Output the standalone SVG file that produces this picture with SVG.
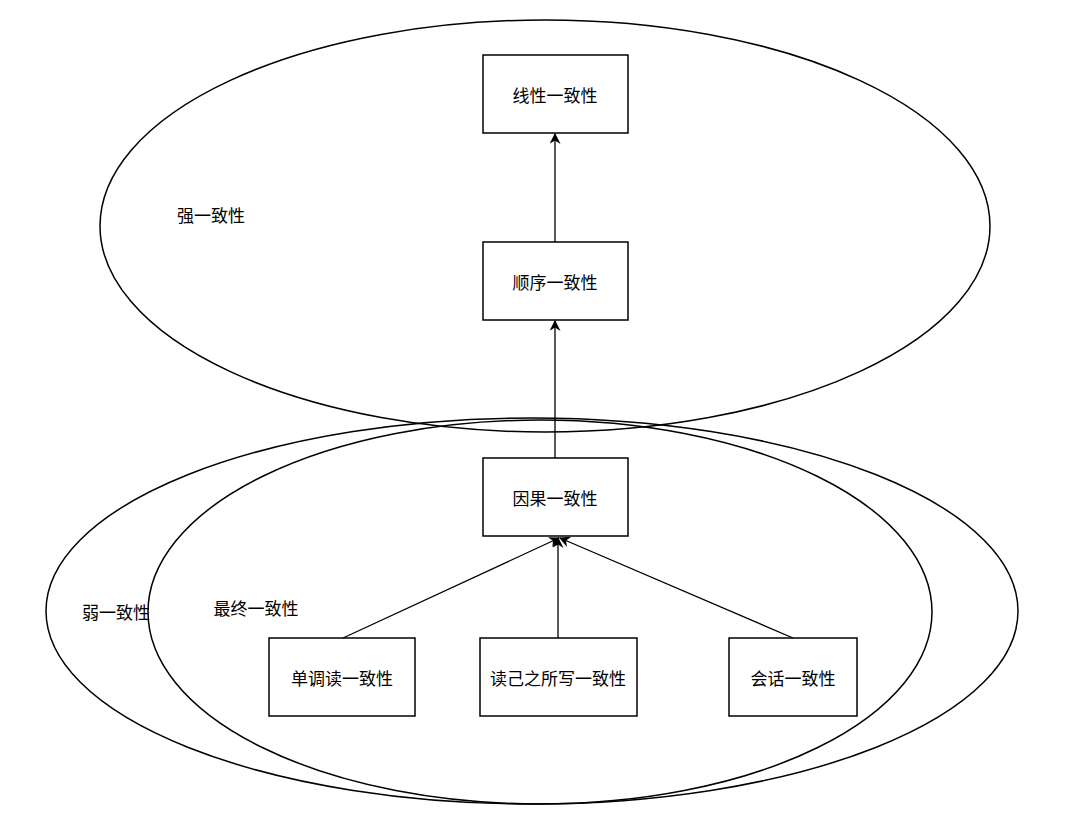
<svg xmlns="http://www.w3.org/2000/svg" width="1080" height="821" viewBox="0 0 1080 821">
<style>
.e{fill:none;stroke:#000;stroke-width:1.5}
.b{fill:#fff;stroke:#000;stroke-width:1.5}
text{font-family:"Noto Sans CJK SC",sans-serif;font-size:17px;fill:#000}
.c{text-anchor:middle;dominant-baseline:central}
.l{stroke:#000;stroke-width:1.3;fill:none;marker-end:url(#a)}
</style>
<defs><marker id="a" viewBox="0 0 10 10" refX="9" refY="5" markerWidth="11" markerHeight="11" markerUnits="userSpaceOnUse" orient="auto"><path d="M0,0L10,5L0,10L3,5z" fill="#000"/></marker></defs>
<rect width="1080" height="821" fill="#fff"/>
<g id="strong"><ellipse class="e" cx="545" cy="226" rx="445" ry="206"/><text x="211" y="214" class="c">强一致性</text></g>
<g id="weak"><ellipse class="e" cx="532" cy="611" rx="486" ry="193"/><text x="116" y="611" class="c">弱一致性</text></g>
<g id="eventual"><ellipse class="e" cx="540" cy="612" rx="392" ry="192"/><text x="256" y="607" class="c">最终一致性</text></g>
<g id="linear"><rect class="b" x="483" y="55" width="145" height="78"/><text x="555" y="94" class="c">线性一致性</text></g>
<g id="seq"><rect class="b" x="483" y="242" width="145" height="78"/><text x="555" y="281" class="c">顺序一致性</text></g>
<g id="causal"><rect class="b" x="483" y="458" width="145" height="78"/><text x="555" y="497" class="c">因果一致性</text></g>
<g id="mono"><rect class="b" x="269" y="638" width="146" height="78"/><text x="342" y="677" class="c">单调读一致性</text></g>
<g id="ryw"><rect class="b" x="480" y="638" width="157" height="78"/><text x="558" y="677" class="c">读己之所写一致性</text></g>
<g id="session"><rect class="b" x="729" y="638" width="128" height="78"/><text x="793" y="677" class="c">会话一致性</text></g>
<g id="connectors">
<path class="l" d="M555,242V134"/>
<path class="l" d="M555,458V321"/>
<path class="l" d="M343,638L559,538"/>
<path class="l" d="M558,638V538"/>
<path class="l" d="M793,638L560,538"/>
</g>
</svg>
